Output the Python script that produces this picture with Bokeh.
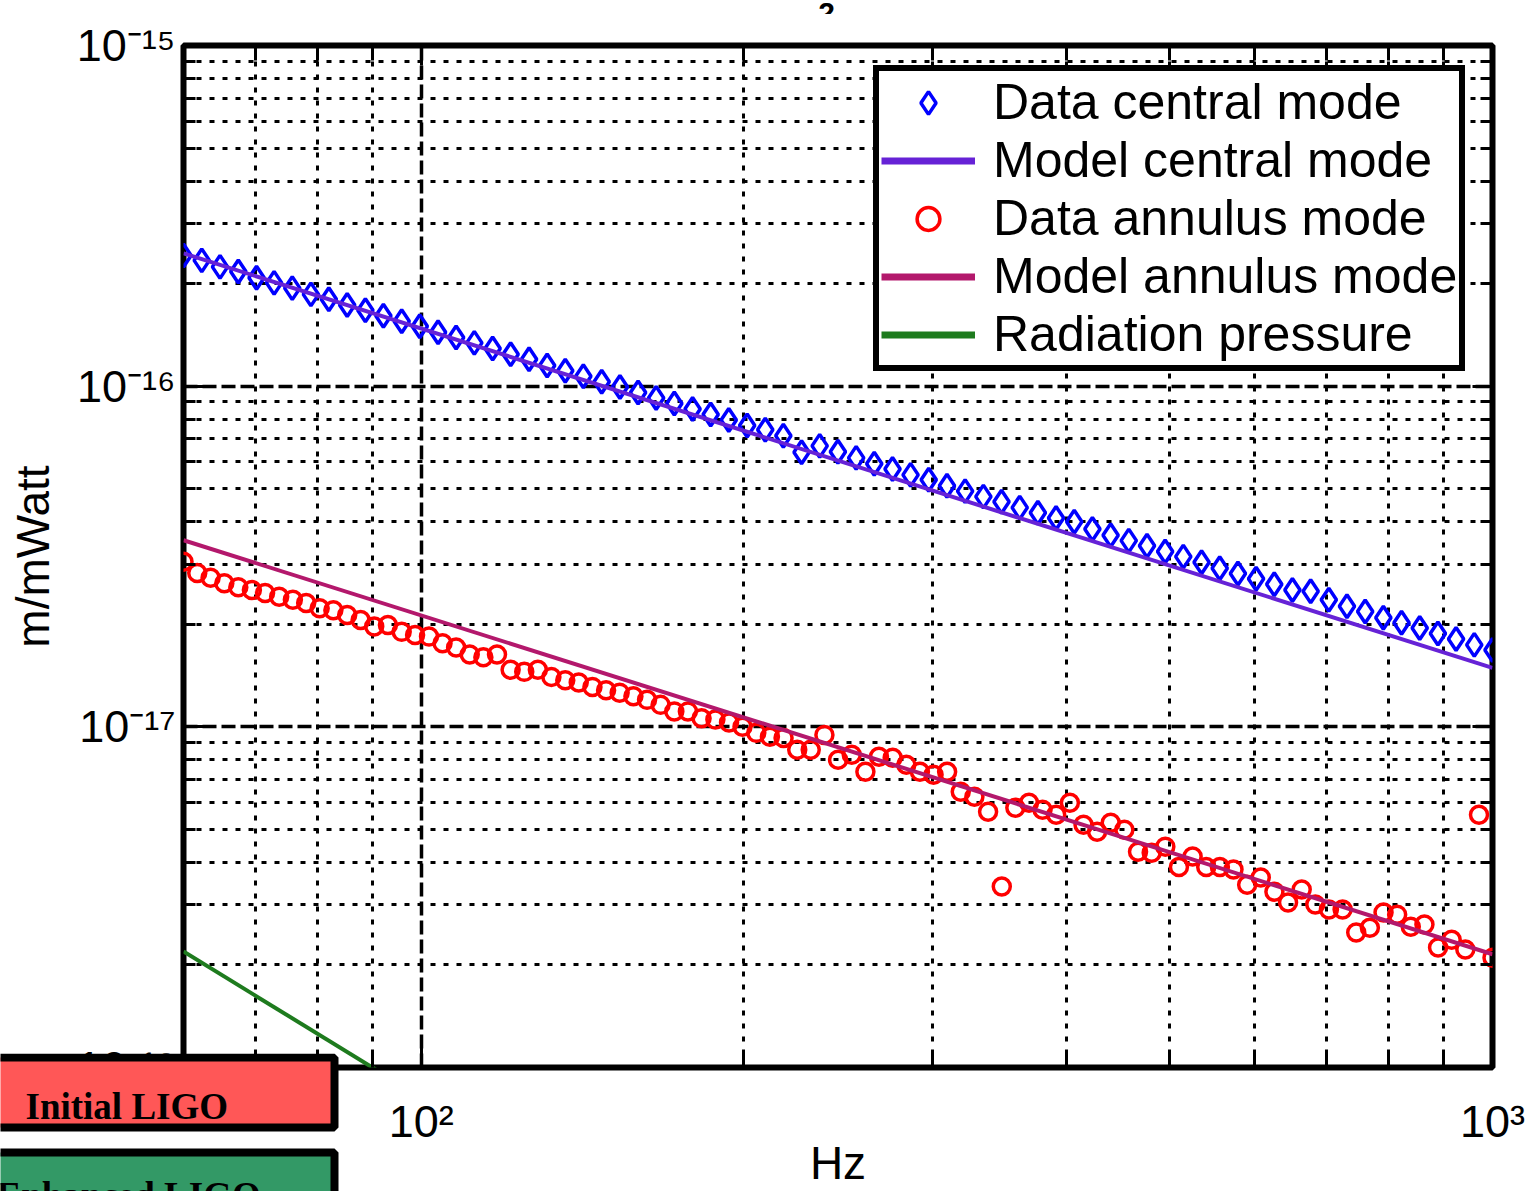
import math
from bokeh.plotting import figure
from bokeh.models import (Range1d, FixedTicker, LogAxis, Legend, CustomJSTickFormatter)
from bokeh.core.properties import value
from bokeh.embed import file_html
from bokeh.resources import INLINE

# ---------------- data ----------------
freq_central = [60.0, 62.4, 64.9, 67.5, 70.2, 72.9, 75.8, 78.9, 82.0, 85.3, 88.7, 92.2,
                95.9, 99.7, 103.7, 107.8, 112.1, 116.6, 121.2, 126.1, 131.1, 136.3, 141.7,
                147.4, 153.3, 159.4, 165.7, 172.3, 179.2, 186.3, 193.7, 201.5, 209.5, 217.8,
                226.5, 235.5, 244.9, 254.7, 264.8, 275.4, 286.3, 297.7, 309.6, 321.9, 334.8,
                348.1, 362.0, 376.4, 391.4, 407.0, 423.2, 440.1, 457.6, 475.9, 494.8, 514.5,
                535.1, 556.4, 578.6, 601.6, 625.6, 650.5, 676.5, 703.4, 731.4, 760.6, 790.9,
                822.4, 855.2, 889.3, 924.7, 961.6, 1000.0]
data_central = [2.42e-16, 2.34e-16, 2.24e-16, 2.17e-16, 2.08e-16, 2.01e-16, 1.94e-16, 1.86e-16,
                1.80e-16, 1.73e-16, 1.67e-16, 1.61e-16, 1.55e-16, 1.50e-16, 1.44e-16, 1.39e-16,
                1.34e-16, 1.29e-16, 1.24e-16, 1.20e-16, 1.15e-16, 1.11e-16, 1.07e-16, 1.03e-16,
                9.94e-17, 9.58e-17, 9.23e-17, 8.89e-17, 8.57e-17, 8.26e-17, 7.96e-17, 7.67e-17,
                7.45e-17, 7.15e-17, 6.40e-17, 6.68e-17, 6.42e-17, 6.16e-17, 5.92e-17, 5.71e-17,
                5.49e-17, 5.31e-17, 5.10e-17, 4.92e-17, 4.74e-17, 4.58e-17, 4.40e-17, 4.25e-17,
                4.10e-17, 4.00e-17, 3.81e-17, 3.65e-17, 3.52e-17, 3.40e-17, 3.27e-17, 3.16e-17,
                3.04e-17, 2.92e-17, 2.82e-17, 2.72e-17, 2.62e-17, 2.52e-17, 2.50e-17, 2.36e-17,
                2.26e-17, 2.18e-17, 2.09e-17, 2.02e-17, 1.95e-17, 1.88e-17, 1.81e-17, 1.74e-17,
                1.68e-17]

freq_annulus = [60.0, 61.8, 63.6, 65.5, 67.5, 69.5, 71.5, 73.7, 75.9, 78.1, 80.4, 82.8, 85.3,
                87.8, 90.4, 93.1, 95.9, 98.7, 101.7, 104.7, 107.8, 111.0, 114.3, 117.7, 121.2,
                124.8, 128.5, 132.3, 136.3, 140.3, 144.5, 148.8, 153.2, 157.8, 162.5, 167.3,
                172.3, 177.4, 182.7, 188.2, 193.8, 199.5, 205.5, 211.6, 217.9, 224.4, 231.0,
                237.9, 245.0, 252.3, 259.8, 267.5, 275.5, 283.7, 292.1, 300.8, 309.7, 318.9,
                328.4, 338.2, 348.3, 358.6, 369.3, 380.2, 391.5, 403.2, 415.2, 427.5, 440.2,
                453.3, 466.8, 480.7, 495.0, 509.7, 524.9, 540.5, 556.6, 573.1, 590.2, 607.7,
                625.8, 644.4, 663.6, 683.3, 703.6, 724.6, 746.1, 768.3, 791.2, 814.7, 838.9,
                863.9, 889.6, 916.0, 943.3, 971.4, 1000.0]
data_annulus = [3.05e-17, 2.83e-17, 2.74e-17, 2.64e-17, 2.57e-17, 2.52e-17, 2.47e-17, 2.41e-17,
                2.36e-17, 2.31e-17, 2.23e-17, 2.20e-17, 2.13e-17, 2.06e-17, 1.97e-17, 1.99e-17,
                1.90e-17, 1.86e-17, 1.84e-17, 1.76e-17, 1.71e-17, 1.63e-17, 1.60e-17, 1.63e-17,
                1.47e-17, 1.45e-17, 1.47e-17, 1.40e-17, 1.37e-17, 1.35e-17, 1.31e-17, 1.28e-17,
                1.26e-17, 1.23e-17, 1.20e-17, 1.16e-17, 1.11e-17, 1.11e-17, 1.06e-17, 1.05e-17,
                1.03e-17, 1.00e-17, 9.60e-18, 9.35e-18, 9.28e-18, 8.56e-18, 8.56e-18, 9.47e-18,
                8.00e-18, 8.28e-18, 7.38e-18, 8.17e-18, 8.11e-18, 7.74e-18, 7.38e-18, 7.23e-18,
                7.38e-18, 6.45e-18, 6.23e-18, 5.63e-18, 3.40e-18, 5.79e-18, 5.99e-18, 5.71e-18,
                5.52e-18, 5.99e-18, 5.16e-18, 4.92e-18, 5.23e-18, 4.99e-18, 4.30e-18, 4.27e-18,
                4.45e-18, 3.88e-18, 4.16e-18, 3.88e-18, 3.88e-18, 3.81e-18, 3.44e-18, 3.61e-18,
                3.28e-18, 3.05e-18, 3.33e-18, 3.01e-18, 2.91e-18, 2.91e-18, 2.49e-18, 2.57e-18,
                2.85e-18, 2.81e-18, 2.59e-18, 2.63e-18, 2.25e-18, 2.37e-18, 2.22e-18, 5.52e-18,
                2.10e-18]

model_freq = [60.0, 1000.0]
model_central = [2.455e-16, 1.49e-17]
model_annulus = [3.53e-17, 2.15e-18]
rad_freq = [60.0, 1000.0]
rad_pressure = [2.19e-18, 9.6e-21]

assert len(freq_central) == len(data_central)
assert len(freq_annulus) == len(data_annulus)

x_major_ticks = [100, 1000]
x_minor_ticks = [70, 80, 90, 200, 300, 400, 500, 600, 700, 800, 900]
y_major_ticks = [1e-18, 1e-17, 1e-16, 1e-15]
y_minor_ticks = [2e-18, 3e-18, 4e-18, 5e-18, 6e-18, 7e-18, 8e-18, 9e-18,
                 2e-17, 3e-17, 4e-17, 5e-17, 6e-17, 7e-17, 8e-17, 9e-17,
                 2e-16, 3e-16, 4e-16, 5e-16, 6e-16, 7e-16, 8e-16, 9e-16]
x_tick_labels = ["10\u00b2", "10\u00b3"]
y_tick_labels = ["10\u207b\u00b9\u2078", "10\u207b\u00b9\u2077",
                 "10\u207b\u00b9\u2076", "10\u207b\u00b9\u2075"]

series_names = ["Data central mode", "Model central mode", "Data annulus mode",
                "Model annulus mode", "Radiation pressure"]

# slide overlay boxes (drawn on a small overlay canvas at the lower left)
box_texts = ["Initial LIGO", "Enhanced LIGO"]
box_fills = ["#ff5757", "#339966"]

FONT = "Liberation Sans"
NAN = float("nan")

# ---------------- main figure ----------------
p = figure(width=1526, height=1191, x_axis_type="log", y_axis_type="log",
           x_range=Range1d(60, 1000), y_range=Range1d(1e-18, 1e-15),
           output_backend="svg", toolbar_location=None,
           min_border_left=183, min_border_right=34, min_border_top=45,
           min_border_bottom=123)
p.background_fill_color = "white"
p.border_fill_color = "white"
p.outline_line_color = "black"
p.outline_line_width = 6

xt = FixedTicker(ticks=x_major_ticks, minor_ticks=x_minor_ticks)
yt = FixedTicker(ticks=y_major_ticks, minor_ticks=y_minor_ticks)
blank = CustomJSTickFormatter(code="return ''")


def style_ticks(ax, tick_in, minor_in):
    ax.axis_line_color = None
    ax.major_tick_in = tick_in
    ax.major_tick_out = 0
    ax.minor_tick_in = minor_in
    ax.minor_tick_out = 0
    ax.major_tick_line_width = 3
    ax.minor_tick_line_width = 3
    ax.major_tick_line_color = "black"
    ax.minor_tick_line_color = "black"


xa = p.xaxis[0]
xa.ticker = xt
style_ticks(xa, 20, 15)
xa.major_label_overrides = dict(zip(x_major_ticks, x_tick_labels))
xa.major_label_text_font = FONT
xa.major_label_text_font_size = "45px"
xa.major_label_text_color = "black"
xa.major_label_standoff = 28
xa.axis_label = "Hz"
xa.axis_label_text_font = FONT
xa.axis_label_text_font_size = "46px"
xa.axis_label_text_font_style = "normal"
xa.axis_label_text_color = "black"
xa.axis_label_standoff = -13

ya = p.yaxis[0]
ya.ticker = yt
style_ticks(ya, 20, 12)
ya.major_label_overrides = dict(zip(y_major_ticks, y_tick_labels))
ya.major_label_orientation = "horizontal"
ya.major_label_text_font = FONT
ya.major_label_text_font_size = "45px"
ya.major_label_text_color = "black"
ya.major_label_standoff = 8
ya.axis_label = "m/mWatt"
ya.axis_label_text_font = FONT
ya.axis_label_text_font_size = "46px"
ya.axis_label_text_font_style = "normal"
ya.axis_label_text_color = "black"
ya.axis_label_standoff = 14

top_ax = LogAxis(ticker=xt, formatter=blank, major_label_text_font_size="1px",
                 major_label_standoff=0)
right_ax = LogAxis(ticker=yt, formatter=blank, major_label_text_font_size="1px",
                   major_label_standoff=0)
style_ticks(top_ax, 20, 15)
style_ticks(right_ax, 20, 12)
p.add_layout(top_ax, "above")
p.add_layout(right_ax, "right")

for g, t in ((p.xgrid, xt), (p.ygrid, yt)):
    g.ticker = t
    g.grid_line_color = "black"
    g.grid_line_dash = "14 5"
    g.grid_line_width = 3.5
    g.minor_grid_line_color = "black"
    g.minor_grid_line_dash = "5 8"
    g.minor_grid_line_width = 3

# ---------------- series ----------------
r_dc = p.scatter(freq_central, data_central, marker="diamond", size=23,
                 fill_color=None, line_color="#0000ff", line_width=3.5)
r_mc = p.line(model_freq, model_central, line_color="#6622d6", line_width=4)
r_da = p.scatter(freq_annulus, data_annulus, marker="circle", size=17,
                 fill_color=None, line_color="#ff0000", line_width=3.5)
r_ma = p.line(model_freq, model_annulus, line_color="#b3186c", line_width=4)
r_rp = p.line(rad_freq, rad_pressure, line_color="#1e7b1e", line_width=4)

# legend-only line samples (thicker, as in the reference legend); NaN data draws nothing
k_mc = p.line([NAN], [NAN], line_color="#6622d6", line_width=7)
k_ma = p.line([NAN], [NAN], line_color="#b3186c", line_width=7)
k_rp = p.line([NAN], [NAN], line_color="#1e7b1e", line_width=7)

legend = Legend(items=list(zip(series_names, [[r_dc], [k_mc], [r_da], [k_ma], [k_rp]])),
                location=(690, 696))
legend.border_line_color = "black"
legend.border_line_width = 6
legend.border_line_alpha = 1.0
legend.background_fill_color = "white"
legend.background_fill_alpha = 1.0
legend.label_text_font = FONT
legend.label_text_font_size = "50px"
legend.label_text_color = "black"
legend.glyph_width = 94
legend.glyph_height = 57
legend.label_height = 57
legend.label_standoff = 18
legend.padding = 2
legend.spacing = 0
legend.margin = 0
p.add_layout(legend)

# ---------------- overlay: slide boxes at the lower left ----------------
ov = figure(width=340, height=138, x_range=Range1d(0, 340), y_range=Range1d(138, 0),
            x_axis_location=None, y_axis_location=None, toolbar_location=None,
            output_backend="svg", min_border=0)
ov.title.visible = False
ov.outline_line_color = None
ov.grid.visible = False
ov.background_fill_alpha = 0
ov.border_fill_alpha = 0
ov.styles = {"position": "absolute", "left": "0px", "top": "1053px", "z-index": "5"}
ov.quad(left=[-10, -10], right=[334, 334], top=[4, 99], bottom=[74, 220],
        fill_color=box_fills, line_color="black", line_width=8)
ov.text(x=[25, -4], y=[53, 142], text=box_texts,
        text_font=value("Liberation Serif"), text_font_style="bold",
        text_font_size="37px", text_baseline="alphabetic", text_align="left",
        text_color="black")

# ---------------- overlay: cut-off fragment of the title ----------------
tv = figure(width=36, height=14, x_range=Range1d(0, 36), y_range=Range1d(14, 0),
            x_axis_location=None, y_axis_location=None, toolbar_location=None,
            output_backend="svg", min_border=0)
tv.title.visible = False
tv.outline_line_color = None
tv.grid.visible = False
tv.background_fill_alpha = 0
tv.border_fill_alpha = 0
tv.styles = {"position": "absolute", "left": "808px", "top": "0px", "z-index": "5"}
tv.text(x=[18], y=[12], text=["2"], text_font=value(FONT), text_font_style="bold",
        text_font_size="30px", text_baseline="alphabetic", text_align="center",
        text_color="black")

open("out.html", "w").write(file_html([p, ov, tv], INLINE))
